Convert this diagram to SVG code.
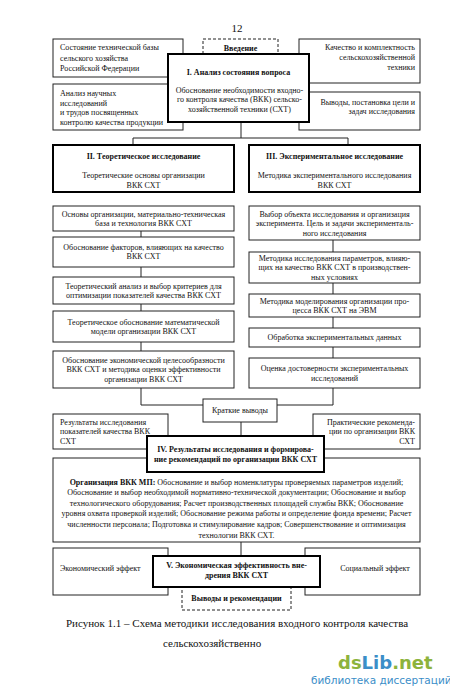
<svg xmlns="http://www.w3.org/2000/svg" width="450" height="690" viewBox="0 0 450 690">
<style>
.b{fill:#fff;stroke:#222;stroke-width:1}
.t{fill:#fff;stroke:#000;stroke-width:2}
.d{fill:#fff;stroke:#222;stroke-width:1;stroke-dasharray:3,2}
text{font-family:"Liberation Serif","Times New Roman",serif;font-size:8px;fill:#111}
.c{text-anchor:middle}
.r{text-anchor:end}
.bd{font-weight:bold}
.cn{fill:none;stroke:#222;stroke-width:1}
.cap{font-size:11px}
</style>
<rect width="450" height="690" fill="#fff"/>
<text x="237" y="32" class="c" style="font-size:11px">12</text>

<g id="connectors">
<path class="cn" d="M241,122V138M133,138H348M133,138V145M348,138V145"/>
<path class="cn" d="M141,231V237M141,267V277M141,304V311M141,342V351"/>
<path class="cn" d="M333,240V252M333,283V294M333,317V328M333,347V358"/>
<path class="cn" d="M141,388V405H203M333,388V405H277M241,422V436M241,542V556"/>
</g>

<g id="n-state">
<rect class="b" x="53" y="39" width="130" height="38"/>
<text x="60" y="50">Состояние технической базы</text>
<text x="60" y="60.5">сельского хозяйства</text>
<text x="60" y="71">Российской Федерации</text>
</g>
<g id="n-analysis">
<rect class="b" x="53" y="84" width="130" height="46"/>
<text x="60" y="96">Анализ научных</text>
<text x="60" y="105.5">исследований</text>
<text x="60" y="115">и трудов посвященных</text>
<text x="60" y="124.5">контролю качества продукции</text>
</g>
<g id="n-quality">
<rect class="b" x="299" y="39" width="121" height="44"/>
<text x="415" y="50" class="r">Качество и комплектность</text>
<text x="415" y="60" class="r">сельскохозяйственной</text>
<text x="415" y="70" class="r">техники</text>
</g>
<g id="n-goals">
<rect class="b" x="299" y="92" width="121" height="38"/>
<text x="415" y="104.5" class="r">Выводы, постановка цели и</text>
<text x="415" y="114" class="r">задач исследования</text>
</g>
<g id="n-intro">
<rect class="d" x="203" y="39" width="75" height="30"/>
<text x="240.5" y="51" class="c bd">Введение</text>
</g>
<g id="n-I">
<rect class="t" x="168" y="54" width="141" height="68"/>
<text x="238.5" y="74.5" class="c bd">I. Анализ состояния вопроса</text>
<text x="239.5" y="92.5" class="c">Обоснование необходимости входно-</text>
<text x="239.5" y="102" class="c">го контроля качества (ВКК) сельско-</text>
<text x="239.5" y="111.5" class="c">хозяйственной техники (СХТ)</text>
</g>

<g id="n-II">
<rect class="t" x="53" y="145" width="181" height="47"/>
<text x="143.5" y="158.5" class="c bd">II. Теоретическое исследование</text>
<text x="143.5" y="178" class="c">Теоретические основы организации</text>
<text x="143.5" y="188" class="c">ВКК СХТ</text>
</g>
<g id="n-III">
<rect class="t" x="249" y="145" width="171" height="47"/>
<text x="334.5" y="158.5" class="c bd">III. Экспериментальное исследование</text>
<text x="334.5" y="178" class="c">Методика экспериментального исследования</text>
<text x="334.5" y="188" class="c">ВКК СХТ</text>
</g>

<g id="n-L1">
<rect class="b" x="53" y="206" width="181" height="25"/>
<text x="143.5" y="216.5" class="c">Основы организации, материально-техническая</text>
<text x="143.5" y="226" class="c">база и технология ВКК СХТ</text>
</g>
<g id="n-L2">
<rect class="b" x="53" y="237" width="181" height="30"/>
<text x="143.5" y="249.5" class="c">Обоснование факторов, влияющих на качество</text>
<text x="143.5" y="259" class="c">ВКК СХТ</text>
</g>
<g id="n-L3">
<rect class="b" x="53" y="277" width="181" height="27"/>
<text x="143.5" y="288.5" class="c">Теоретический анализ и выбор критериев для</text>
<text x="143.5" y="298" class="c">оптимизации показателей качества ВКК СХТ</text>
</g>
<g id="n-L4">
<rect class="b" x="53" y="311" width="181" height="31"/>
<text x="143.5" y="324.5" class="c">Теоретическое обоснование математической</text>
<text x="143.5" y="334" class="c">модели организации ВКК СХТ</text>
</g>
<g id="n-L5">
<rect class="b" x="53" y="351" width="181" height="37"/>
<text x="143.5" y="362.7" class="c">Обоснование экономической целесообразности</text>
<text x="143.5" y="372.2" class="c">ВКК СХТ и методика оценки эффективности</text>
<text x="143.5" y="381.7" class="c">организации ВКК СХТ</text>
</g>

<g id="n-R1">
<rect class="b" x="249" y="206" width="171" height="34"/>
<text x="334.5" y="216.7" class="c">Выбор объекта исследования и организация</text>
<text x="334.5" y="226.2" class="c">эксперимента. Цель и задачи эксперименталь-</text>
<text x="334.5" y="235.7" class="c">ного исследования</text>
</g>
<g id="n-R2">
<rect class="b" x="249" y="252" width="171" height="31"/>
<text x="334.5" y="260.7" class="c">Методика исследования параметров, влияю-</text>
<text x="334.5" y="270.2" class="c">щих на качество ВКК СХТ в производствен-</text>
<text x="334.5" y="279.7" class="c">ных условиях</text>
</g>
<g id="n-R3">
<rect class="b" x="249" y="294" width="171" height="23"/>
<text x="334.5" y="303.5" class="c">Методика моделирования организации про-</text>
<text x="334.5" y="313" class="c">цесса ВКК СХТ на ЭВМ</text>
</g>
<g id="n-R4">
<rect class="b" x="249" y="328" width="171" height="19"/>
<text x="334.5" y="340.3" class="c">Обработка экспериментальных данных</text>
</g>
<g id="n-R5">
<rect class="b" x="249" y="358" width="171" height="30"/>
<text x="334.5" y="371" class="c">Оценка достоверности экспериментальных</text>
<text x="334.5" y="380.5" class="c">исследований</text>
</g>

<g id="n-brief">
<rect class="b" x="203" y="399" width="74" height="23"/>
<text x="240" y="413.3" class="c">Краткие выводы</text>
</g>
<g id="n-results">
<rect class="b" x="53" y="414" width="115" height="35"/>
<text x="60" y="424.7">Результаты исследования</text>
<text x="60" y="434.2">показателей качества ВКК</text>
<text x="60" y="443.7">СХТ</text>
</g>
<g id="n-practical">
<rect class="b" x="313" y="414" width="107" height="35"/>
<text x="415" y="424.7" class="r">Практические рекоменда-</text>
<text x="415" y="434.2" class="r">ции по организации ВКК</text>
<text x="415" y="443.7" class="r">СХТ</text>
</g>
<g id="n-org">
<rect class="b" x="53" y="458" width="367" height="84"/>
<text x="236.5" y="484.5" class="c"><tspan class="bd">Организация ВКК МП:</tspan> Обоснование и выбор номенклатуры проверяемых параметров изделий;</text>
<text x="236.5" y="495.1" class="c">Обоснование и выбор необходимой нормативно-технической документации; Обоснование и выбор</text>
<text x="236.5" y="505.7" class="c">технологического оборудования; Расчет производственных площадей службы ВКК; Обоснование</text>
<text x="236.5" y="516.3" class="c">уровня охвата проверкой изделий; Обоснование режима работы и определение фонда времени; Расчет</text>
<text x="236.5" y="526.9" class="c">численности персонала; Подготовка и стимулирование кадров; Совершенствование и оптимизация</text>
<text x="236.5" y="537.5" class="c">технологии ВКК СХТ.</text>
</g>
<g id="n-IV">
<rect class="t" x="147" y="436" width="177" height="36"/>
<text x="235.5" y="451.7" class="c bd">IV. Результаты исследования и формирова-</text>
<text x="235.5" y="462.2" class="c bd">ние рекомендаций по организации ВКК СХТ</text>
</g>

<g id="n-econ">
<rect class="b" x="53" y="548" width="115" height="47"/>
<text x="60" y="570.5">Экономический эффект</text>
</g>
<g id="n-social">
<rect class="b" x="305" y="548" width="115" height="47"/>
<text x="375" y="570.5" class="c">Социальный эффект</text>
</g>
<g id="n-concl">
<rect class="d" x="182" y="580" width="109" height="30"/>
<text x="236.5" y="601" class="c bd">Выводы и рекомендации</text>
</g>
<g id="n-V">
<rect class="t" x="153" y="556" width="167" height="31"/>
<text x="236.5" y="567.7" class="c bd">V. Экономическая эффективность вне-</text>
<text x="236.5" y="577.7" class="c bd">дрения ВКК СХТ</text>
</g>

<text x="237" y="626.5" class="c cap">Рисунок 1.1 – Схема методики исследования входного контроля качества</text>
<text x="163" y="646.5" class="cap">сельскохозяйственно</text>

<text x="338" y="669" style="font-family:'DejaVu Sans',sans-serif;font-size:18px;font-weight:bold"><tspan fill="#8db33c">ds</tspan><tspan fill="#3b8ec8">Lib</tspan><tspan fill="#8db33c">.net</tspan></text>
<text x="311" y="684" style="font-family:'DejaVu Sans',sans-serif;font-size:10.5px;fill:#3b8ec8">библиотека диссертаций</text>
</svg>
